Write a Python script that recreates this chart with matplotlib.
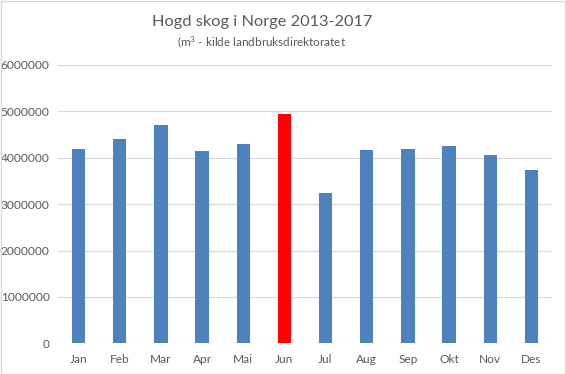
import matplotlib.pyplot as plt
from matplotlib.patches import Rectangle

months = ["Jan", "Feb", "Mar", "Apr", "Mai", "Jun", "Jul", "Aug", "Sep", "Okt", "Nov", "Des"]
hogst = [4180000, 4400000, 4700000, 4140000, 4290000, 4940000,
         3230000, 4160000, 4180000, 4250000, 4050000, 3730000]
highlight = "Jun"
yticks = [0, 1000000, 2000000, 3000000, 4000000, 5000000, 6000000]

plt.rcParams['font.family'] = ['Lato', 'DejaVu Sans']
plt.rcParams['mathtext.fontset'] = 'custom'
plt.rcParams['mathtext.rm'] = 'Lato'
plt.rcParams['mathtext.default'] = 'regular'
txt = "#595959"

fig = plt.figure(figsize=(5.66, 3.74), dpi=100)
ax = fig.add_axes([58 / 566, 1 - 343.3 / 374, (552 - 58) / 566, (343.3 - 65) / 374])

colors = ["#FF0000" if m == highlight else "#4F81BD" for m in months]
ax.bar(range(len(months)), hogst, width=0.32, color=colors, zorder=3)

ax.set_xlim(-0.5, len(months) - 0.5)
ax.set_ylim(0, 6000000)
ax.set_yticks(yticks)
ax.set_yticklabels([str(v) for v in yticks])
ax.set_xticks(range(len(months)))
ax.set_xticklabels(months)
ax.grid(axis='y', color="#D9D9D9", linewidth=0.9, zorder=0)
for s in ax.spines.values():
    s.set_visible(False)
ax.tick_params(axis='both', length=0, colors=txt, labelsize=8.6)
ax.tick_params(axis='y', pad=6)
ax.tick_params(axis='x', pad=8)

fig.text(262 / 566, 1 - 22 / 374, "Hogd skog i Norge 2013-2017", ha='center', va='center',
         fontsize=11.8, color=txt)
fig.text(262 / 566, 1 - 42 / 374, "(m$^3$ - kilde landbruksdirektoratet", ha='center', va='center',
         fontsize=8.5, color=txt)

fig.patches.append(Rectangle((0.5 / 566, 0.5 / 374), 1 - 1.5 / 566, 1 - 1.5 / 374,
                             transform=fig.transFigure, fill=False, edgecolor="#D9D9D9", linewidth=1))

plt.savefig("out.png", dpi=100)
